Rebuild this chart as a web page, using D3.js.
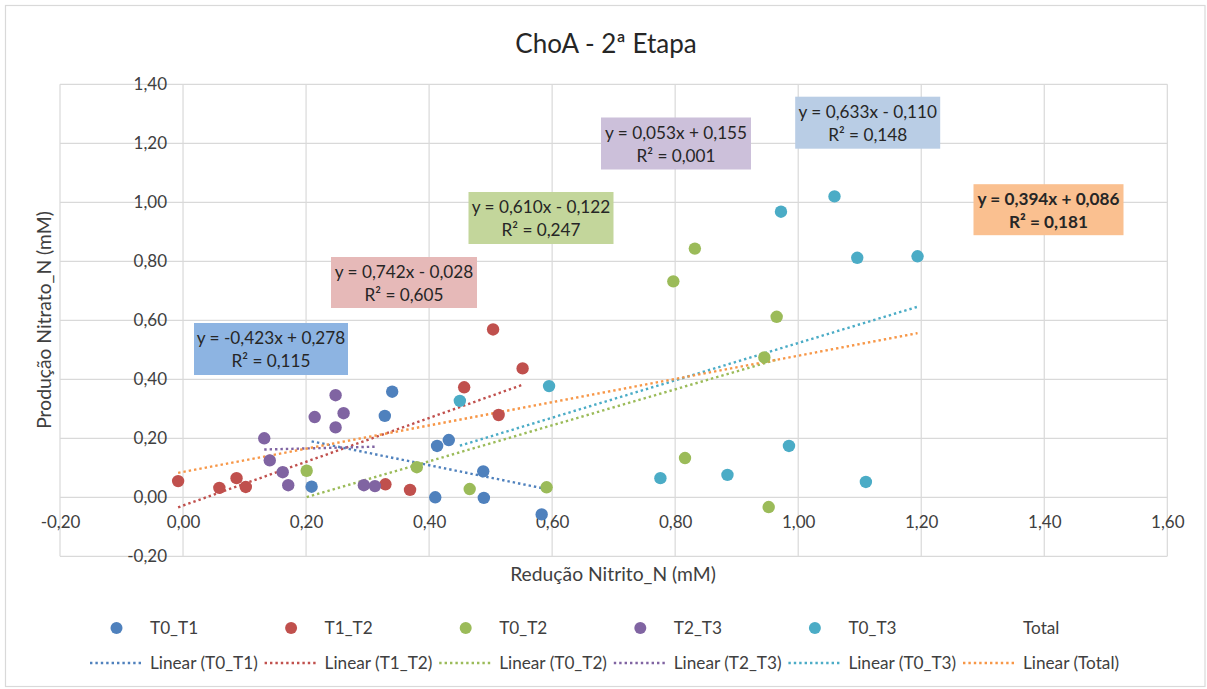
<!DOCTYPE html>
<html>
<head>
<meta charset="utf-8">
<script src="https://cdn.jsdelivr.net/npm/d3@7"></script>
<style>
  body { margin: 0; background: #fff; }
  text { font-family: Lato, "Open Sans", sans-serif; }
</style>
</head>
<body>
<svg id="chart" width="1207" height="689"></svg>
<script>
// ---- data ----
const seriesNames = ["T0_T1", "T1_T2", "T0_T2", "T2_T3", "T0_T3"];

const t0t1X = [0.209, 0.328, 0.340, 0.410, 0.413, 0.432, 0.488, 0.489, 0.583];
const t0t1Y = [0.036, 0.276, 0.358, 0.000, 0.174, 0.194, 0.088, -0.002, -0.058];

const t1t2X = [-0.008, 0.059, 0.087, 0.102, 0.329, 0.369, 0.457, 0.504, 0.513, 0.552];
const t1t2Y = [0.055, 0.032, 0.065, 0.035, 0.044, 0.025, 0.373, 0.569, 0.279, 0.437];

const t0t2X = [0.201, 0.380, 0.466, 0.591, 0.797, 0.816, 0.832, 0.945, 0.952, 0.965];
const t0t2Y = [0.090, 0.102, 0.028, 0.034, 0.732, 0.133, 0.843, 0.474, -0.033, 0.612];

const t2t3X = [0.132, 0.141, 0.162, 0.171, 0.214, 0.248, 0.248, 0.261, 0.294, 0.312];
const t2t3Y = [0.200, 0.125, 0.085, 0.041, 0.272, 0.346, 0.237, 0.285, 0.041, 0.038];

const t0t3X = [0.450, 0.595, 0.776, 0.885, 0.972, 0.985, 1.059, 1.096, 1.110, 1.194];
const t0t3Y = [0.327, 0.377, 0.065, 0.076, 0.968, 0.174, 1.020, 0.812, 0.052, 0.817];

// linear trendlines: T0_T1, T1_T2, T0_T2, T2_T3, T0_T3, Total
const trendNames = ["T0_T1", "T1_T2", "T0_T2", "T2_T3", "T0_T3", "Total"];
const trendSlopes = [-0.423, 0.742, 0.610, 0.053, 0.633, 0.394];
const trendIntercepts = [0.278, -0.028, -0.122, 0.155, -0.110, 0.086];
const trendR2 = [0.115, 0.605, 0.247, 0.001, 0.148, 0.181];

const xTicks = [-0.2, 0, 0.2, 0.4, 0.6, 0.8, 1.0, 1.2, 1.4, 1.6];
const yTicks = [-0.2, 0, 0.2, 0.4, 0.6, 0.8, 1.0, 1.2, 1.4];

// ---- styles / layout ----
const markerColors = ["#4F81BD", "#C0504D", "#9BBB59", "#8064A2", "#4BACC6", "#F79646"];
const boxColors = ["#8DB4E2", "#E6B9B8", "#C3D69B", "#CCC0DA", "#B9CDE5", "#FAC090"];
const boxLayout = [
  { cx: 271, cy: 349, w: 154, h: 52 },
  { cx: 404, cy: 282.5, w: 146, h: 51 },
  { cx: 541, cy: 218, w: 145, h: 52 },
  { cx: 676, cy: 143.5, w: 150, h: 52 },
  { cx: 867.7, cy: 122.7, w: 145, h: 52 },
  { cx: 1048.5, cy: 209.7, w: 150, h: 51 }
];

const seriesData = [
  d3.zip(t0t1X, t0t1Y),
  d3.zip(t1t2X, t1t2Y),
  d3.zip(t0t2X, t0t2Y),
  d3.zip(t2t3X, t2t3Y),
  d3.zip(t0t3X, t0t3Y)
];
const totalData = seriesData.flat();
const trendData = seriesData.concat([totalData]);

const svg = d3.select("#chart");

const locale = d3.formatLocale({ decimal: ",", thousands: ".", grouping: [3], currency: ["", ""], minus: "-" });
const f2 = locale.format(".2f");
const f3 = locale.format(".3f");

const x = d3.scaleLinear().domain([-0.2, 1.6]).range([60, 1167.3]);
const y = d3.scaleLinear().domain([-0.2, 1.4]).range([556.3, 84.3]);

// chart area border
svg.append("rect")
  .attr("x", 5.5).attr("y", 5.5).attr("width", 1199.5).attr("height", 681)
  .attr("fill", "#fff").attr("stroke", "#D9D9D9").attr("stroke-width", 1.2);

// title
svg.append("text")
  .attr("x", 606).attr("y", 53)
  .attr("text-anchor", "middle")
  .attr("font-size", 26).attr("fill", "#262626")
  .text("ChoA - 2ª Etapa");

// gridlines
const grid = svg.append("g").attr("stroke", "#D9D9D9").attr("stroke-width", 1.2);
grid.selectAll("line.v").data(xTicks).join("line")
  .attr("x1", d => x(d)).attr("x2", d => x(d))
  .attr("y1", y(1.4)).attr("y2", y(-0.2));
grid.selectAll("line.h").data(yTicks).join("line")
  .attr("x1", x(-0.2)).attr("x2", x(1.6))
  .attr("y1", d => y(d)).attr("y2", d => y(d));

// axes crossing at zero
const xAxis = svg.append("g")
  .attr("transform", `translate(0,${y(0)})`)
  .call(d3.axisBottom(x).tickValues(xTicks).tickSize(0).tickPadding(19).tickFormat(f2));
const yAxis = svg.append("g")
  .attr("transform", `translate(${x(0)},0)`)
  .call(d3.axisLeft(y).tickValues(yTicks).tickSize(0).tickPadding(16).tickFormat(f2));
[xAxis, yAxis].forEach(a => {
  a.select(".domain").remove();
  a.selectAll("text").attr("font-size", 17).attr("fill", "#404040")
    .style("font-family", "Lato, 'Open Sans', sans-serif");
});

// axis titles
svg.append("text")
  .attr("x", 613).attr("y", 581)
  .attr("text-anchor", "middle").attr("font-size", 19.3).attr("fill", "#404040")
  .text("Redução Nitrito_N (mM)");
svg.append("text")
  .attr("transform", `translate(51,320) rotate(-90)`)
  .attr("text-anchor", "middle").attr("font-size", 19.3).attr("fill", "#404040")
  .text("Produção Nitrato_N (mM)");

// trendlines over each series' x-range
const dash = "2.4 3";
const trendG = svg.append("g");
trendData.forEach((pts, i) => {
  const [x0, x1] = d3.extent(pts, d => d[0]);
  const line = [x0, x1].map(v => [v, trendSlopes[i] * v + trendIntercepts[i]]);
  trendG.append("path")
    .datum(line)
    .attr("d", d3.line().x(d => x(d[0])).y(d => y(d[1])))
    .attr("fill", "none")
    .attr("stroke", markerColors[i])
    .attr("stroke-width", 2.4)
    .attr("stroke-dasharray", dash);
});

// markers
seriesData.forEach((pts, i) => {
  svg.append("g").selectAll("circle").data(pts).join("circle")
    .attr("cx", d => x(d[0])).attr("cy", d => y(d[1]))
    .attr("r", 6.2)
    .attr("fill", markerColors[i]);
});

// equation labels
const eqText = i => {
  const m = trendSlopes[i], b = trendIntercepts[i];
  return `y = ${f3(m)}x ${b < 0 ? "-" : "+"} ${f3(Math.abs(b))}`;
};
trendData.forEach((_, i) => {
  const L = boxLayout[i];
  const g = svg.append("g").attr("transform", `translate(${L.cx},${L.cy})`);
  g.append("rect")
    .attr("x", -L.w / 2).attr("y", -L.h / 2).attr("width", L.w).attr("height", L.h)
    .attr("fill", boxColors[i]);
  const t = g.append("text")
    .attr("text-anchor", "middle").attr("font-size", 17.2).attr("fill", "#262626")
    .attr("font-weight", i === 5 ? "bold" : "normal");
  t.append("tspan").attr("x", 0).attr("y", -5).text(eqText(i));
  t.append("tspan").attr("x", 0).attr("y", 18).text(`R² = ${f3(trendR2[i])}`);
});

// legend
const colW = 174.6, col0 = 88;
const legend = svg.append("g");
trendNames.forEach((name, i) => {
  const cx = col0 + colW * i;
  if (i < seriesNames.length) {
    legend.append("circle")
      .attr("cx", cx + 28.5).attr("cy", 628).attr("r", 6)
      .attr("fill", markerColors[i]);
  }
  legend.append("text")
    .attr("x", cx + 62).attr("y", 634).attr("font-size", 17.2).attr("fill", "#404040")
    .text(name);
  legend.append("line")
    .attr("x1", cx + 2).attr("x2", cx + 53).attr("y1", 663).attr("y2", 663)
    .attr("stroke", markerColors[i]).attr("stroke-width", 2.4).attr("stroke-dasharray", dash);
  legend.append("text")
    .attr("x", cx + 62).attr("y", 669).attr("font-size", 17.2).attr("fill", "#404040")
    .text(`Linear (${name})`);
});
</script>
</body>
</html>
